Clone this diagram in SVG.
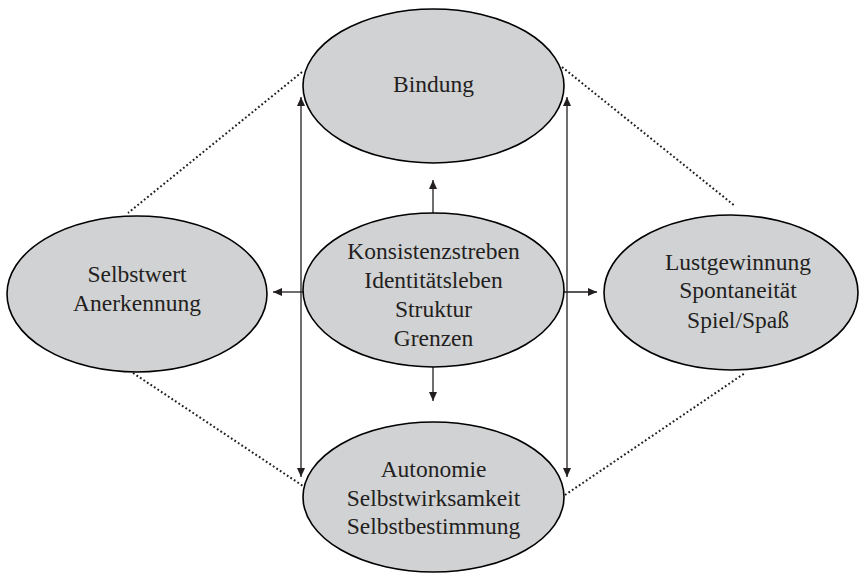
<svg xmlns="http://www.w3.org/2000/svg" width="860" height="575" viewBox="0 0 860 575">
<style>
.node ellipse{fill:#d1d2d4;stroke:#000;stroke-width:1.6}
.node text{font-family:"Liberation Serif","Times New Roman",serif;font-size:23.5px;fill:#231f20;text-anchor:middle}
.arrow{stroke:#231f20;stroke-width:1.3;fill:none}
.dot{stroke:#231f20;stroke-width:2;fill:none;stroke-dasharray:1.8 2.4}
</style>
<defs>
<marker id="ah" markerUnits="userSpaceOnUse" markerWidth="10" markerHeight="10" refX="9" refY="4" orient="auto-start-reverse">
<path d="M0,0 L9,4 L0,8 Z" fill="#231f20"/>
</marker>
</defs>
<g id="connectors">
<line class="dot" x1="302" y1="72" x2="128" y2="213"/>
<line class="dot" x1="562" y1="67" x2="735" y2="206"/>
<line class="dot" x1="133" y1="373" x2="303" y2="486"/>
<line class="dot" x1="565" y1="495" x2="745" y2="373"/>
<line class="arrow" x1="301" y1="97" x2="301" y2="477" marker-start="url(#ah)" marker-end="url(#ah)"/>
<line class="arrow" x1="567" y1="97" x2="567" y2="477" marker-start="url(#ah)" marker-end="url(#ah)"/>
<line class="arrow" x1="433" y1="213" x2="433" y2="180" marker-end="url(#ah)"/>
<line class="arrow" x1="433" y1="367" x2="433" y2="401" marker-end="url(#ah)"/>
<line class="arrow" x1="303" y1="292" x2="273" y2="292" marker-end="url(#ah)"/>
<line class="arrow" x1="564" y1="292" x2="597" y2="292" marker-end="url(#ah)"/>
</g>
<g id="bindung" class="node">
<ellipse cx="433.5" cy="86" rx="130.5" ry="77"/>
<text x="433.5" y="92">Bindung</text>
</g>
<g id="zentrum" class="node">
<ellipse cx="433.5" cy="290" rx="130.5" ry="77"/>
<text x="433.5" y="259">Konsistenzstreben</text>
<text x="433.5" y="288">Identitätsleben</text>
<text x="433.5" y="317">Struktur</text>
<text x="433.5" y="346">Grenzen</text>
</g>
<g id="autonomie" class="node">
<ellipse cx="433.5" cy="497" rx="130.5" ry="75"/>
<text x="433.5" y="477">Autonomie</text>
<text x="433.5" y="505.5">Selbstwirksamkeit</text>
<text x="433.5" y="534">Selbstbestimmung</text>
</g>
<g id="selbstwert" class="node">
<ellipse cx="137" cy="294" rx="130" ry="78"/>
<text x="137" y="282">Selbstwert</text>
<text x="137" y="311">Anerkennung</text>
</g>
<g id="lust" class="node">
<ellipse cx="731" cy="292.5" rx="127" ry="77.5"/>
<text x="738" y="270">Lustgewinnung</text>
<text x="738" y="298">Spontaneität</text>
<text x="738" y="328">Spiel/Spaß</text>
</g>
</svg>
